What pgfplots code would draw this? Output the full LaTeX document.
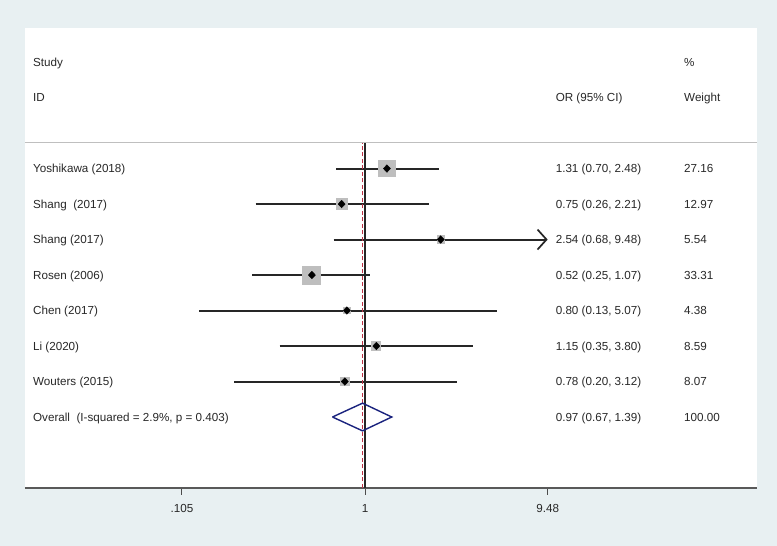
\documentclass[border=0pt]{standalone}
\usepackage{pgfplots}
\pgfplotsset{compat=1.18}
\usepackage{pgfplotstable}
\usepackage{fontspec}
\setmainfont{Liberation Sans}
\usetikzlibrary{arrows.meta}
\definecolor{bgc}{RGB}{232,240,242}
\definecolor{sqg}{RGB}{190,190,190}
\definecolor{dnavy}{RGB}{26,35,126}
\definecolor{dred}{RGB}{190,50,70}
\definecolor{txt}{RGB}{40,40,40}
\tikzset{tnode/.style={anchor=west, inner sep=0pt, text height=8.4bp, text depth=0pt,
     font=\fontsize{11.7}{13}\selectfont, text=txt}}

\pgfplotstableread{
or lo hi w y
1.31 0.70 2.48 27.16 9
0.75 0.26 2.21 12.97 8
2.54 0.68 9.48 5.54 7
0.52 0.25 1.07 33.31 6
0.80 0.13 5.07 4.38 5
1.15 0.35 3.80 8.59 4
0.78 0.20 3.12 8.07 3
}\studies

\begin{document}
\begin{tikzpicture}
\fill[bgc] (0,0) rectangle (777bp,546bp);
\begin{axis}[
  at={(25bp,58bp)}, anchor=south west,
  scale only axis, width=732bp, height=460bp,
  xmode=log, xmin=0.01520, xmax=124.8, ymin=0, ymax=12.96,
  axis background/.style={fill=white},
  axis y line=none, axis x line*=bottom,
  x axis line style={draw=black!65, line width=1.6bp, -},
  xtick={0.105,1,9.48}, xticklabels={.105,1,9.48},
  minor xtick={},
  tick align=outside, major tick length=7bp,
  x tick style={draw=black!70, line width=1bp},
  xticklabel style={font=\fontsize{11.7}{13}\selectfont, text=txt, yshift=-6bp},
  clip=false,
]
% separator
\addplot[black!25, line width=1bp] coordinates {(0.01520,9.72) (124.8,9.72)};
% confidence intervals
\addplot[black!85, line width=2bp] coordinates {(0.70,9) (2.48,9)};
\addplot[black!85, line width=2bp] coordinates {(0.26,8) (2.21,8)};
\addplot[black!85, line width=2bp, -{Straight Barb[length=9bp,width=20bp,line width=1.7bp]}] coordinates {(0.68,7) (9.48,7)};
\addplot[black!85, line width=2bp] coordinates {(0.25,6) (1.07,6)};
\addplot[black!85, line width=2bp] coordinates {(0.13,5) (5.07,5)};
\addplot[black!85, line width=2bp] coordinates {(0.35,4) (3.80,4)};
\addplot[black!85, line width=2bp] coordinates {(0.20,3) (3.12,3)};
% weight squares (side proportional to sqrt(weight))
\addplot[scatter, only marks, mark=square*, draw=sqg, fill=sqg,
  scatter/use mapped color={draw=sqg, fill=sqg},
  visualization depends on={1.56*sqrt(\thisrow{w}) \as \msz},
  scatter/@pre marker code/.code={%
    \edef\markopts{mark size=\msz pt}%
    \expandafter\scope\expandafter[\markopts, fill=sqg, draw=sqg, line width=0pt]},
  scatter/@post marker code/.code={\endscope}]
  table[x=or, y=y] {\studies};
% reference lines
\addplot[dred, line width=1bp, dash pattern=on 4bp off 2.5bp] coordinates {(0.97,0) (0.97,9.72)};
\addplot[black!85, line width=1.1bp] coordinates {(1,0) (1,9.72)};
% point estimates
\addplot[only marks, mark=diamond*, mark size=3.8bp, mark options={xscale=1.25}, black] table[x=or, y=y] {\studies};
% overall diamond
\addplot[dnavy, line width=1.4bp, line join=miter] coordinates {(0.67,2) (0.97,2.39) (1.39,2) (0.97,1.61) (0.67,2)};
% text
\node[tnode] at (axis cs:0.01676,12) {Study};
\node[tnode] at (axis cs:0.01676,11) {ID};
\node[tnode] at (axis cs:10.45,11) {OR (95\% CI)};
\node[tnode] at (axis cs:50.8,12) {\%};
\node[tnode] at (axis cs:50.8,11) {Weight};
\node[tnode] at (axis cs:0.01676,9) {Yoshikawa (2018)};
\node[tnode] at (axis cs:0.01676,8) {Shang\ \ (2017)};
\node[tnode] at (axis cs:0.01676,7) {Shang (2017)};
\node[tnode] at (axis cs:0.01676,6) {Rosen (2006)};
\node[tnode] at (axis cs:0.01676,5) {Chen (2017)};
\node[tnode] at (axis cs:0.01676,4) {Li (2020)};
\node[tnode] at (axis cs:0.01676,3) {Wouters (2015)};
\node[tnode] at (axis cs:0.01676,2) {Overall\ \ (I-squared = 2.9\%, p = 0.403)};
\node[tnode] at (axis cs:10.45,9) {1.31 (0.70, 2.48)};
\node[tnode] at (axis cs:10.45,8) {0.75 (0.26, 2.21)};
\node[tnode] at (axis cs:10.45,7) {2.54 (0.68, 9.48)};
\node[tnode] at (axis cs:10.45,6) {0.52 (0.25, 1.07)};
\node[tnode] at (axis cs:10.45,5) {0.80 (0.13, 5.07)};
\node[tnode] at (axis cs:10.45,4) {1.15 (0.35, 3.80)};
\node[tnode] at (axis cs:10.45,3) {0.78 (0.20, 3.12)};
\node[tnode] at (axis cs:10.45,2) {0.97 (0.67, 1.39)};
\node[tnode] at (axis cs:50.8,9) {27.16};
\node[tnode] at (axis cs:50.8,8) {12.97};
\node[tnode] at (axis cs:50.8,7) {5.54};
\node[tnode] at (axis cs:50.8,6) {33.31};
\node[tnode] at (axis cs:50.8,5) {4.38};
\node[tnode] at (axis cs:50.8,4) {8.59};
\node[tnode] at (axis cs:50.8,3) {8.07};
\node[tnode] at (axis cs:50.8,2) {100.00};
\end{axis}
\end{tikzpicture}
\end{document}
